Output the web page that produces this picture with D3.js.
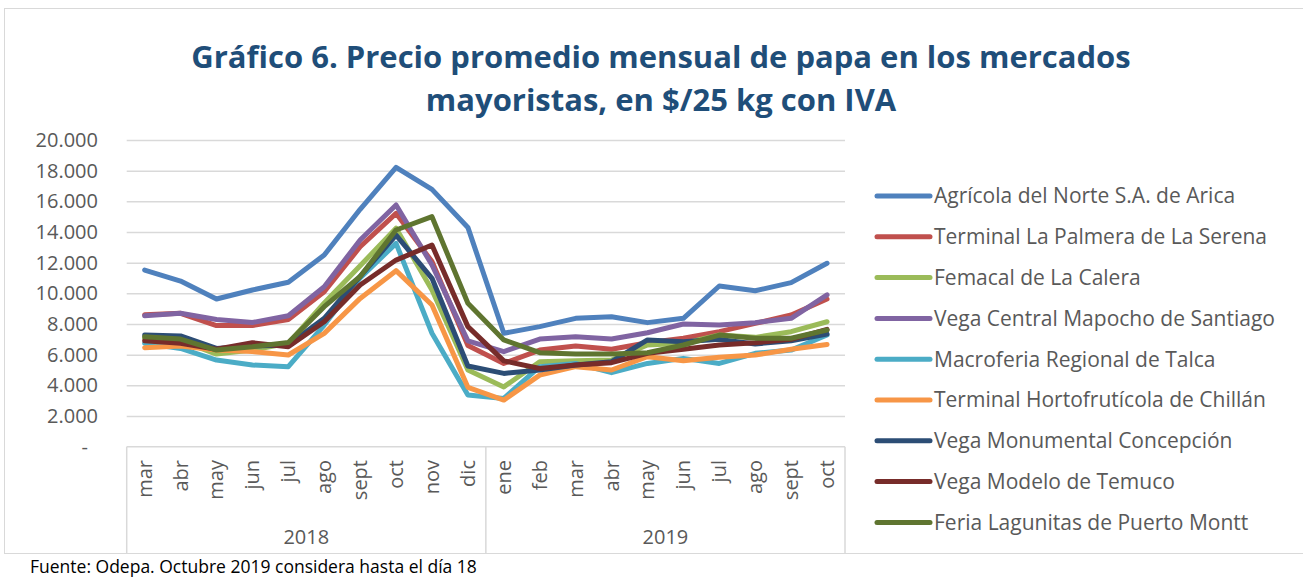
<!doctype html>
<html lang="es">
<head>
<meta charset="utf-8">
<title>Gráfico 6</title>
<script src="https://cdn.jsdelivr.net/npm/d3@7"></script>
<style>
  body { margin: 0; background: #fff; }
  svg { display: block; }
  .grid line { stroke: #d9d9d9; stroke-width: 1.5; }
  .grid .domain { display: none; }
  .ylab text, .xlab text, .legend text { fill: #595959; font-family: "Open Sans", sans-serif; }
</style>
</head>
<body>
<svg width="1303" height="579"></svg>
<script>
// months shown on the category axis
var months = ["mar","abr","may","jun","jul","ago","sept","oct","nov","dic",
              "ene","feb","mar","abr","may","jun","jul","ago","sept","oct"];
var years = ["2018", "2019"];
var yTicks = [0, 2000, 4000, 6000, 8000, 10000, 12000, 14000, 16000, 18000, 20000];

var seriesNames = [
  "Agrícola del Norte S.A. de Arica",
  "Terminal La Palmera de La Serena",
  "Femacal de La Calera",
  "Vega Central Mapocho de Santiago",
  "Macroferia Regional de Talca",
  "Terminal Hortofrutícola de Chillán",
  "Vega Monumental Concepción",
  "Vega Modelo de Temuco",
  "Feria Lagunitas de Puerto Montt"
];
var seriesColors = ["#4f81bd","#c0504d","#9bbb59","#8064a2","#4bacc6","#f79646","#2c4d75","#772c2a","#5f7530"];

// $/25 kg
var arica     = [11520,10800,9630,10220,10720,12500,15480,18220,16780,14300, 7400,7830,8370,8480,8090,8370,10480,10170,10700,11960];
var laSerena  = [8600,8700,7900,7900,8300,10100,13040,15220,12070,6600, 5430,6300,6570,6350,6780,7070,7500,8040,8590,9630];
var laCalera  = [7070,6910,6040,6300,6740,9370,11800,14250,10220,5000, 3900,5540,5600,5650,6630,6740,7280,7130,7500,8150];
var santiago  = [8540,8700,8300,8100,8540,10430,13480,15760,11850,6900, 6200,7020,7170,7020,7430,8000,7930,8090,8370,9900];
var talca     = [6740,6410,5650,5330,5220,7930,11000,13260,7400,3370, 3150,5220,5430,4830,5430,5760,5430,6090,6300,7280];
var chillan   = [6460,6570,6300,6200,5980,7390,9670,11480,9240,3870, 3040,4670,5220,5000,5870,5600,5830,5980,6350,6670];
var concepcion= [7280,7220,6410,6570,6630,8370,11100,13800,10980,5260, 4780,5000,5330,5540,6960,6850,7000,6700,6910,7350];
var temuco    = [6910,6740,6350,6780,6520,8150,10540,12170,13150,7830, 5600,5100,5330,5480,6090,6350,6630,6780,7000,7650];
var ptoMontt  = [7170,7020,6300,6520,6800,9130,11100,14130,15000,9350, 6960,6130,6040,6040,6130,6630,7280,7070,7070,7610];

var seriesValues = [arica, laSerena, laCalera, santiago, talca, chillan, concepcion, temuco, ptoMontt];

var svg = d3.select("svg");

// outer chart frame
svg.append("rect")
  .attr("x", 4.5).attr("y", 8.5)
  .attr("width", 1310).attr("height", 545)
  .attr("fill", "none").attr("stroke", "#d9d9d9").attr("stroke-width", 1);

// title
var title = svg.append("text")
  .attr("text-anchor", "middle")
  .attr("font-family", "'Open Sans', sans-serif")
  .attr("font-weight", "bold")
  .attr("font-size", 31)
  .attr("fill", "#1f4e79");
title.append("tspan").attr("x", 661).attr("y", 68).text("Gráfico 6. Precio promedio mensual de papa en los mercados");
title.append("tspan").attr("x", 661).attr("y", 111).text("mayoristas, en $/25 kg con IVA");

var plot = { left: 126.7, right: 845, top: 140, bottom: 446.7 };

var x = d3.scalePoint()
  .domain(d3.range(months.length))
  .range([plot.left, plot.right])
  .padding(0.5);

var y = d3.scaleLinear()
  .domain([0, 20000])
  .range([plot.bottom, plot.top]);

// gridlines
svg.append("g")
  .attr("class", "grid")
  .attr("transform", "translate(" + plot.left + ",0)")
  .call(d3.axisLeft(y).tickValues(yTicks.slice(1)).tickSize(-(plot.right - plot.left)).tickFormat(""));

// y labels
var fmt = function (v) { return v === 0 ? "-" : d3.format(",")(v).replace(/,/g, "."); };
var yl = svg.append("g").attr("class", "ylab");
yl.selectAll("text")
  .data(yTicks)
  .enter()
  .append("text")
  .attr("x", function (d) { return d === 0 ? 88 : 98; })
  .attr("y", function (d) { return y(d); })
  .attr("dy", "0.35em")
  .attr("text-anchor", "end")
  .attr("font-size", 20)
  .text(fmt);

// category axis box
var axisG = svg.append("g").attr("stroke", "#d9d9d9").attr("stroke-width", 1.5);
axisG.append("line")
  .attr("x1", plot.left).attr("x2", plot.right)
  .attr("y1", plot.bottom).attr("y2", plot.bottom);
var step = x.step();
[0, 10, 20].forEach(function (i) {
  var xx = plot.left + i * step;
  axisG.append("line")
    .attr("x1", xx).attr("x2", xx)
    .attr("y1", plot.bottom).attr("y2", 553);
});

// month labels
var xl = svg.append("g").attr("class", "xlab");
xl.selectAll("text.m")
  .data(months)
  .enter()
  .append("text")
  .attr("class", "m")
  .attr("transform", function (d, i) { return "translate(" + x(i) + ",460) rotate(-90)"; })
  .attr("dy", "0.35em")
  .attr("text-anchor", "end")
  .attr("font-size", 20)
  .text(function (d) { return d; });

xl.selectAll("text.yr")
  .data(years)
  .enter()
  .append("text")
  .attr("class", "yr")
  .attr("x", function (d, i) { return plot.left + (i * 10 + 5) * step; })
  .attr("y", 544)
  .attr("text-anchor", "middle")
  .attr("font-size", 20)
  .text(function (d) { return d; });

// lines
var line = d3.line()
  .x(function (d, i) { return x(i); })
  .y(function (d) { return y(d); });

svg.append("g")
  .selectAll("path")
  .data(seriesValues)
  .enter()
  .append("path")
  .attr("d", line)
  .attr("fill", "none")
  .attr("stroke", function (d, i) { return seriesColors[i]; })
  .attr("stroke-width", 5)
  .attr("stroke-linejoin", "round")
  .attr("stroke-linecap", "round");

// legend
var legend = svg.append("g")
  .attr("class", "legend")
  .selectAll("g")
  .data(seriesNames)
  .enter()
  .append("g")
  .attr("transform", function (d, i) { return "translate(0," + (196 + i * 40.8) + ")"; });

legend.append("line")
  .attr("x1", 877).attr("x2", 930)
  .attr("stroke", function (d, i) { return seriesColors[i]; })
  .attr("stroke-width", 5)
  .attr("stroke-linecap", "round");

legend.append("text")
  .attr("x", 934)
  .attr("dy", "0.35em")
  .attr("font-size", 21)
  .text(function (d) { return d; });

// source note
svg.append("text")
  .attr("x", 30)
  .attr("y", 573)
  .attr("font-family", "'Open Sans', sans-serif")
  .attr("font-size", 17.5)
  .attr("fill", "#000")
  .text("Fuente: Odepa. Octubre 2019 considera hasta el día 18");
</script>
</body>
</html>
